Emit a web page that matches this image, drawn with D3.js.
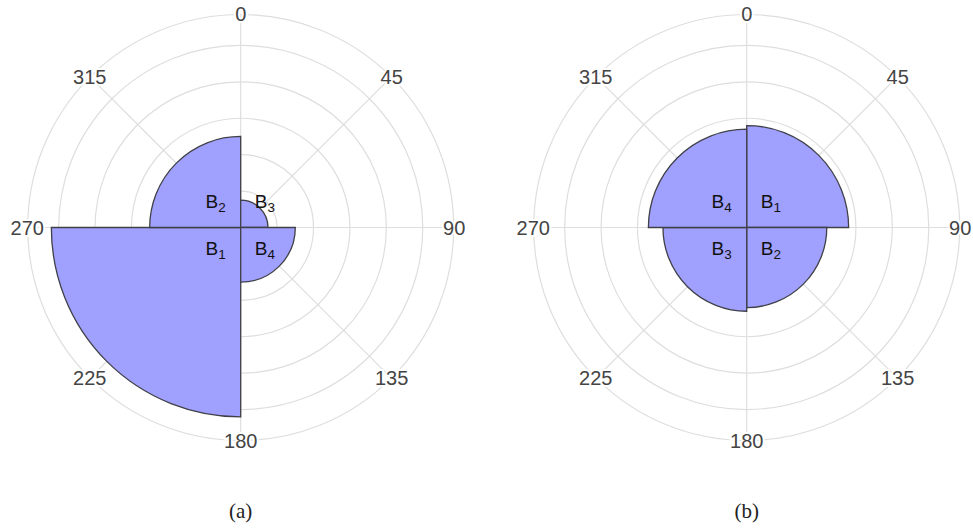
<!DOCTYPE html>
<html>
<head>
<meta charset="utf-8">
<script src="https://cdn.jsdelivr.net/npm/d3@7"></script>
<style>
  html, body { margin: 0; padding: 0; background: #fff; }
  svg { display: block; }
  .sans { font-family: "Liberation Sans", Arial, Helvetica, sans-serif; }
  .serif { font-family: "Liberation Serif", "Times New Roman", serif; }
</style>
</head>
<body>
<script>
// ---- data ----
const angleTicks = [0, 45, 90, 135, 180, 225, 270, 315];
const radialTicks = [2, 4, 6, 8, 10];
const radialMax = 11.7;
const barLabels = ["1", "2", "3", "4"];            // subscripts of B
const leftValues = [10.4, 5.0, 1.5, 3.0];
const leftStartAngles = [180, 270, 0, 90];
const rightValues = [5.6, 4.4, 4.6, 5.4];
const rightStartAngles = [0, 90, 180, 270];
const captions = ["(a)", "(b)"];

// ---- layout ----
const W = 973, H = 528;
const outerR = 213;
const panels = [
  { cx: 240.7, cy: 227.5, values: leftValues, starts: leftStartAngles, caption: captions[0] },
  { cx: 746.7, cy: 227.5, values: rightValues, starts: rightStartAngles, caption: captions[1] }
];

const svg = d3.select("body").append("svg").attr("width", W).attr("height", H);
const r = d3.scaleLinear().domain([0, radialMax]).range([0, outerR]);
const rad = d => d * Math.PI / 180;

panels.forEach(p => {
  const g = svg.append("g").attr("transform", `translate(${p.cx},${p.cy})`);

  // grid circles
  g.selectAll("circle.grid").data(radialTicks.concat([radialMax])).join("circle")
    .attr("class", "grid").attr("r", d => r(d))
    .attr("fill", "none").attr("stroke", "#dedede").attr("stroke-width", 1.2);

  // angular grid lines
  g.selectAll("line.spoke").data(angleTicks).join("line")
    .attr("x1", 0).attr("y1", 0)
    .attr("x2", d => outerR * Math.sin(rad(d)))
    .attr("y2", d => -outerR * Math.cos(rad(d)))
    .attr("stroke", "#dedede").attr("stroke-width", 1.2);

  // bars
  const arc = d3.arc().innerRadius(0);
  const bars = p.values.map((v, i) => ({ v, start: p.starts[i], label: barLabels[i] }));
  g.selectAll("path.bar").data(bars).join("path")
    .attr("class", "bar")
    .attr("d", d => arc({ outerRadius: r(d.v), startAngle: rad(d.start), endAngle: rad(d.start + 90) }))
    .attr("fill", "#a0a0ff").attr("stroke", "#404048").attr("stroke-width", 1.3)
    .attr("stroke-linejoin", "miter");

  // bar labels
  bars.forEach(d => {
    const mid = rad(d.start + 45);
    const right = Math.sin(mid) > 0;
    const upper = Math.cos(mid) > 0;
    const t = g.append("text").attr("class", "sans")
      .attr("x", right ? 14 : -15)
      .attr("y", upper ? -19.5 : 27.5)
      .attr("text-anchor", right ? "start" : "end")
      .style("font-size", "19px").attr("fill", "#111");
    t.append("tspan").text("B");
    t.append("tspan").style("font-size", "13.5px").attr("dy", 4).text(d.label);
  });

  // angular tick labels
  g.selectAll("text.tick").data(angleTicks).join("text")
    .attr("class", "tick sans")
    .attr("x", d => 213.5 * Math.sin(rad(d)))
    .attr("y", d => -213.5 * Math.cos(rad(d)) + 7)
    .attr("text-anchor", "middle")
    .style("font-size", "20px").attr("fill", "#444")
    .attr("stroke", "#fff").attr("stroke-width", 4).attr("paint-order", "stroke")
    .text(d => d);

  // caption
  svg.append("text").attr("class", "serif")
    .attr("x", p.cx).attr("y", 518)
    .attr("text-anchor", "middle")
    .style("font-size", "21px").attr("fill", "#222")
    .text(p.caption);
});
</script>
</body>
</html>
